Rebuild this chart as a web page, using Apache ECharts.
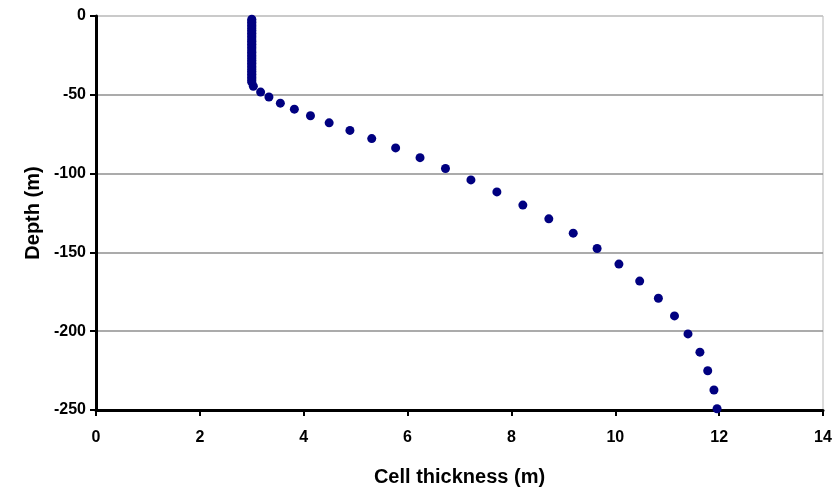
<!DOCTYPE html>
<html>
<head>
<meta charset="utf-8">
<script src="https://cdn.jsdelivr.net/npm/echarts@6/dist/echarts.min.js"></script>
<style>
html,body{margin:0;padding:0;background:#fff;}
#chart{width:833px;height:488px;}
</style>
</head>
<body>
<div id="chart"></div>
<script>
// Cell thickness (m) values (upper column read as dense points at ~3 m)
var thickness = [3.0,3.0,3.0,3.0,3.0,3.0,3.0,3.0,3.0,3.0,3.0,3.0,3.0,3.0,3.0,3.0,3.0,3.0,3.0,3.0,
  3.0,3.0,3.0,3.0,3.0,3.0,3.0,3.0,3.0,3.0,3.0,3.0,3.0,3.0,3.0,3.0,3.0,3.0,3.0,3.0,3.0,
  3.03,3.17,3.33,3.55,3.82,4.13,4.49,4.89,5.31,5.77,6.24,6.73,7.22,7.72,8.22,8.72,9.19,9.65,
  10.07,10.47,10.83,11.14,11.4,11.63,11.78,11.9,11.96];
// Depth (m) values
var depth = [-2,-3,-4,-5,-6,-7,-8,-9,-10,-11,-12,-13,-14,-15,-16,-17,-18,-19,-20,-21,
  -22,-23,-24,-25,-26,-27,-28,-29,-30,-31,-32,-33,-34,-35,-36,-37,-38,-39,-40,-41,-42,
  -44.6,-48.3,-51.4,-55.3,-59.1,-63.3,-67.8,-72.6,-77.8,-83.7,-89.9,-96.8,-104,-111.6,-120,-128.7,-137.8,-147.5,
  -157.4,-168.2,-179.1,-190.3,-201.7,-213.3,-225.1,-237.3,-249.2];
var xTicks = [0,2,4,6,8,10,12,14];
var yTicks = [-250,-200,-150,-100,-50,0];

var pts = thickness.map(function(v,i){return [v, depth[i]];});
var font = 'Liberation Sans, Arial, sans-serif';
var chart = echarts.init(document.getElementById('chart'));
chart.setOption({
  animation:false,
  backgroundColor:'#fff',
  grid:{left:96,right:10,top:16,bottom:78,containLabel:false,outerBoundsMode:'none',show:true,borderColor:'#b8b8b8',borderWidth:1,backgroundColor:'transparent'},
  xAxis:{
    type:'value',min:xTicks[0],max:xTicks[xTicks.length-1],interval:2,
    name:'Cell thickness (m)',nameLocation:'middle',nameGap:57,
    nameTextStyle:{fontFamily:font,fontWeight:'bold',fontSize:20,color:'#000'},
    axisLine:{show:true,onZero:false,lineStyle:{color:'#000',width:3}},
    axisTick:{show:true,length:6,lineStyle:{color:'#000',width:2}},
    axisLabel:{fontFamily:font,fontWeight:'bold',fontSize:16,color:'#000',margin:20},
    splitLine:{show:false}
  },
  yAxis:{
    type:'value',min:yTicks[0],max:yTicks[yTicks.length-1],interval:50,
    name:'Depth (m)',nameLocation:'middle',nameGap:52,
    nameTextStyle:{fontFamily:font,fontWeight:'bold',fontSize:20,color:'#000'},
    axisLine:{show:true,onZero:false,lineStyle:{color:'#000',width:3}},
    axisTick:{show:true,length:6,lineStyle:{color:'#000',width:2}},
    axisLabel:{fontFamily:font,fontWeight:'bold',fontSize:16,color:'#000',margin:10},
    splitLine:{show:true,lineStyle:{color:['#8f8f8f','#8f8f8f','#8f8f8f','#8f8f8f','#8f8f8f','#c4c4c4'],width:1.5}}
  },
  series:[{
    type:'scatter',data:pts,symbol:'circle',symbolSize:9,
    itemStyle:{color:'#000080',opacity:1}
  }]
});
</script>
</body>
</html>
